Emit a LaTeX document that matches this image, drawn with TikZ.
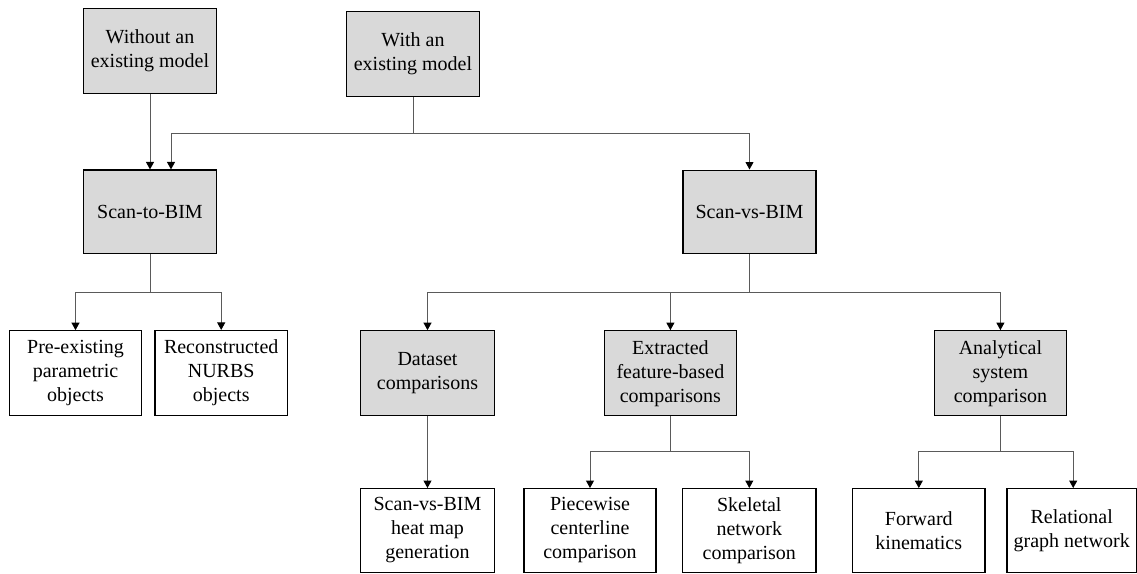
\documentclass[tikz,border=0pt]{standalone}
\usepackage{fontspec}
\setmainfont{Liberation Serif}
\usetikzlibrary{arrows.meta,calc}
\definecolor{boxgray}{HTML}{D9D9D9}
\definecolor{linegray}{HTML}{5A5A5A}
\tikzset{
  gbox/.style={draw=black, line width=1.1pt, fill=boxgray, minimum width=133pt, minimum height=85pt, inner sep=0pt, align=center, font=\fontsize{20}{24}\selectfont},
  wbox/.style={gbox, fill=white},
  conn/.style={draw=linegray, line width=0.9pt, -{Triangle[width=8pt,length=7.5pt,color=black]}},
  plain/.style={draw=linegray, line width=0.9pt}
}
\begin{document}
\begin{tikzpicture}[x=1pt,y=-1pt]
\useasboundingbox (0,0) rectangle (1137,573);
% top row
\node[gbox] (wo) at (150,50.8) {Without an\\existing model};
\node[gbox] (with) at (413,54.2) {With an\\existing model};
% second row
\node[gbox, minimum height=83.5pt] (s2b) at (150,211.7) {Scan-to-BIM};
\node[gbox, minimum height=83.5pt] (svb) at (749.5,211.8) {Scan-vs-BIM};
% third row
\node[wbox, minimum width=132.4pt] (pre) at (75.5,373.2) {Pre-existing\\parametric\\objects};
\node[wbox, minimum width=132.4pt] (rec) at (221.2,373) {Reconstructed\\NURBS\\objects};
\node[gbox, minimum width=133.6pt] (ds) at (427.5,373.2) {Dataset\\comparisons};
\node[gbox, minimum width=132.7pt] (ex) at (670.4,373.2) {Extracted\\feature-based\\comparisons};
\node[gbox, minimum width=132.7pt] (an) at (1000.4,373.2) {Analytical\\system\\comparison};
% bottom row
\node[wbox, minimum width=133.6pt, minimum height=83.6pt] (hm) at (427.5,530.4) {Scan-vs-BIM\\heat map\\generation};
\node[wbox, minimum width=132pt, minimum height=83.6pt] (pw) at (590,530.4) {Piecewise\\centerline\\comparison};
\node[wbox, minimum width=133.3pt, minimum height=83.6pt] (sk) at (749.3,530.4) {Skeletal\\network\\comparison};
\node[wbox, minimum width=132.3pt, minimum height=83.6pt] (fk) at (918.8,530.4) {Forward\\kinematics};
\node[wbox, minimum width=129.4pt, minimum height=83.6pt] (rg) at (1071.7,530.4) {Relational\\graph network};
% junction levels
\coordinate (h1) at (0,133.3);
\coordinate (h2) at (0,292.7);
\coordinate (h3) at (0,451.7);
% connectors
\draw[conn] (wo.south) -- (s2b.north);
\draw[plain] (with.south) -- (with.south |- h1);
\draw[conn] (with.south |- h1) -| ([xshift=21pt]s2b.north);
\draw[conn] (with.south |- h1) -| (svb.north);
\draw[plain] (s2b.south) -- (s2b.south |- h2);
\draw[conn] (s2b.south |- h2) -| (pre.north);
\draw[conn] (s2b.south |- h2) -| (rec.north);
\draw[plain] (svb.south) -- (svb.south |- h2);
\draw[conn] (svb.south |- h2) -| (ds.north);
\draw[conn] (svb.south |- h2) -| (ex.north);
\draw[conn] (svb.south |- h2) -| (an.north);
\draw[conn] (ds.south) -- (hm.north);
\draw[plain] (ex.south) -- (ex.south |- h3);
\draw[conn] (ex.south |- h3) -| (pw.north);
\draw[conn] (ex.south |- h3) -| (sk.north);
\draw[plain] (an.south) -- (an.south |- h3);
\draw[conn] (an.south |- h3) -| (fk.north);
\draw[conn] (an.south |- h3) -| ([xshift=1.5pt]rg.north);
\end{tikzpicture}
\end{document}
